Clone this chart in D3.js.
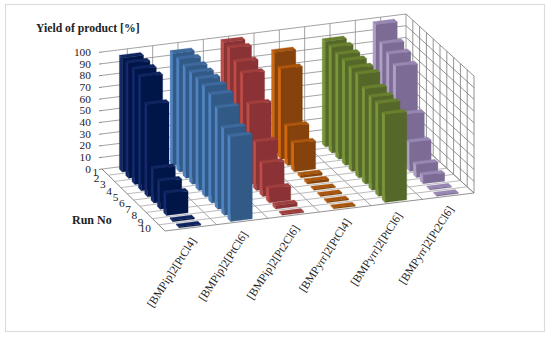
<!DOCTYPE html>
<html><head><meta charset="utf-8">
<script src="https://cdn.jsdelivr.net/npm/d3@7"></script>
<style>html,body{margin:0;padding:0;background:#fff}svg{display:block}text{font-family:"Liberation Serif",serif;fill:#222}</style>
</head><body><svg id="c" width="550" height="338"></svg>
<script>
const categories = ["[BMPip]2[PtCl4]","[BMPip]2[PtCl6]","[BMPip]2[Pt2Cl6]","[BMPyrr]2[PtCl4]","[BMPyrr]2[PtCl6]","[BMPyrr]2[Pt2Cl6]"];
const runs = [1,2,3,4,5,6,7,8,9,10];
const yTicks = [0,10,20,30,40,50,60,70,80,90,100];
const s1 = [97.5,98,98,97,78.5,29,23.5,18.5,1,1];
const s2 = [96,96,95,95,95,94,92,86,74,72];
const s3 = [100,100,93.5,89,68,41,28,12,3,1];
const s4 = [86,77,33,24,2,2,1,1,1,1];
const s5 = [90,90,89,89,88,88,81,79,79,75];
const s6 = [99,87.5,84,79,43,24.5,11,7,1,1];
const seriesValues = [s1,s2,s3,s4,s5,s6];
const frontColors = ["#051649","#325a87","#8a3334","#854207","#55682a","#7b6c95"];
const leftColors  = ["#13296c","#5084c2","#bd4d49","#d4680c","#7a963b","#b0a0c6"];
const topColors   = ["#0e2560","#3d6a9e","#a03e3d","#ab560d","#68802f","#9887b3"];

const svg = d3.select("#c");
const defs = svg.append("defs");
defs.append("filter").attr("id","soft").append("feGaussianBlur").attr("stdDeviation",0.35);
svg.append("rect").attr("x",5.5).attr("y",4.5).attr("width",539).attr("height",327).attr("fill","#fff").attr("stroke","#dcdcdc").attr("stroke-width",1.2);

const cs = d3.scaleLinear().domain([0,categories.length]).range([0,1]);
const rs = d3.scaleLinear().domain([0,runs.length]).range([0,1]);
const vs = d3.scaleLinear().domain([0,100]).range([0,-117]);
const backX = d3.scaleLinear().domain([0,1]).range([102,406]);
const frontX = d3.scaleLinear().domain([0,1]).range([165,474]);
const backY = d3.scaleLinear().domain([0,1]).range([169,131]);
const frontY = d3.scaleLinear().domain([0,1]).range([231,193]);
function P(c,r,v){
  const t=cs(c),u=rs(r);
  return [backX(t)+(frontX(t)-backX(t))*u, backY(t)+(frontY(t)-backY(t))*u+vs(v)];
}
const line=d3.line();
const gridG=svg.append("g").attr("fill","none").attr("stroke","#8c8c8c").attr("stroke-width",0.8);
function seg(a,b,col){gridG.append("path").attr("d",line([a,b])).attr("stroke",col||null);}
const nC=categories.length,nR=runs.length;
yTicks.forEach(v=>{
  seg(P(0,0,v),P(nC,0,v));
  seg(P(nC,0,v),P(nC,nR,v),"#777");
  const p=P(0,0,v); seg([p[0]-3,p[1]+0.4],p,"#666");
});
d3.range(1,2*nC+1).forEach(k=>seg(P(k/2,0,0),P(k/2,0,100)));
d3.range(1,nR+1).forEach(r=>seg(P(nC,r,0),P(nC,r,100),"#777"));
d3.range(0,nC+1).forEach(c=>seg(P(c,0,0),P(c,nR,0),c===0?"#666":null));
d3.range(1,nR+1).forEach(r=>seg(P(0,r,0),P(nC,r,0),r===nR?"#777":"#aaa"));

const a=0.3,w=0.42,m=0.35,d=0.45;
const barsG=svg.append("g").attr("filter","url(#soft)");
function poly(pts,col){barsG.append("path").attr("d",line(pts)+"Z").attr("fill",col).attr("stroke",col).attr("stroke-width",0.3);}
for(let c=nC-1;c>=0;c--){
  runs.forEach((run,i)=>{
    const v=seriesValues[c][i];
    const x0=c+a,x1=c+a+w,r0=i+m,r1=r0+d;
    poly([P(x0,r0,0),P(x0,r1,0),P(x0,r1,v),P(x0,r0,v)],leftColors[c]);
    poly([P(x0,r1,v),P(x1,r1,v),P(x1,r0,v),P(x0,r0,v)],topColors[c]);
    poly([P(x0,r1,0),P(x1,r1,0),P(x1,r1,v),P(x0,r1,v)],frontColors[c]);
  });
}
yTicks.forEach(v=>{const p=P(0,0,v);
  svg.append("text").attr("x",p[0]-11).attr("y",p[1]+3.8).attr("text-anchor","end").attr("font-size",11.4).text(v);});
runs.forEach((run,i)=>{const p=P(0,i+0.5,0);
  const off = run===1?7:(run===10?11:12);
  svg.append("text").attr("x",p[0]-off).attr("y",p[1]+3.8).attr("text-anchor","end").attr("font-size",11.4).text(run);});
categories.forEach((t,c)=>{const p=P(c+0.5,nR,0);
  svg.append("text").attr("transform",`translate(${p[0]+6},${p[1]+13}) rotate(-57)`).attr("text-anchor","end").attr("font-size",11.5).text(t);});
svg.append("text").attr("x",36).attr("y",32).attr("font-size",11.7).attr("font-weight","bold").text("Yield of product [%]");
svg.append("text").attr("x",72).attr("y",224).attr("font-size",12).attr("font-weight","bold").text("Run No");
</script></body></html>
